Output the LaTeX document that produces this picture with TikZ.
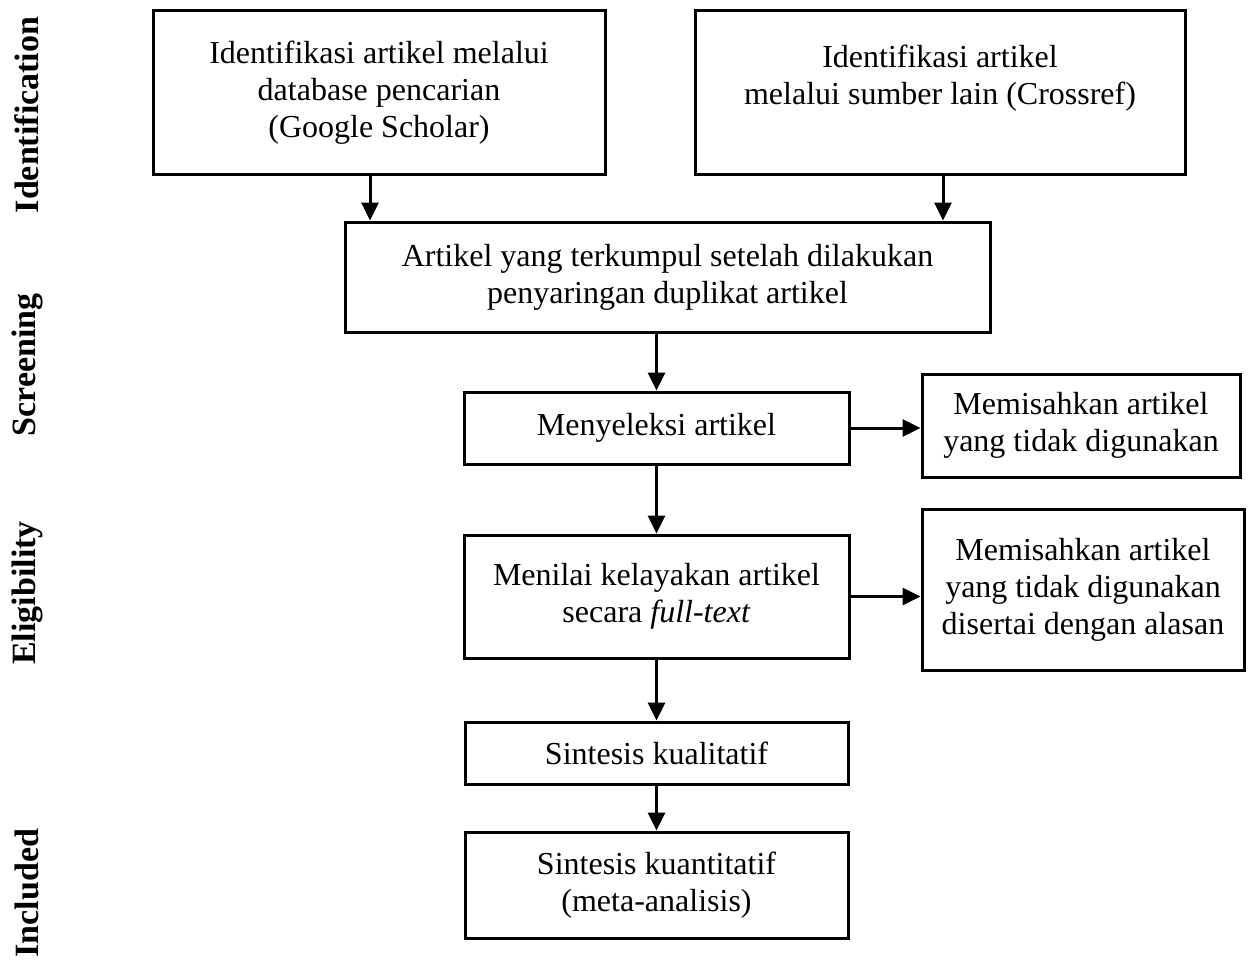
\documentclass[tikz,border=0pt]{standalone}
\usepackage{fontspec}
\setmainfont{Liberation Serif}
\usetikzlibrary{arrows.meta}
\begin{document}
\begin{tikzpicture}[x=1pt,y=-1pt,
  box/.style={draw=black,line width=3pt,align=center,inner sep=0pt,font=\fontsize{32}{37}\selectfont},
  arr/.style={line width=3pt,-{Triangle[length=18pt,width=17pt]}},
  phase/.style={rotate=90,font=\bfseries\fontsize{34}{38}\selectfont}]
\useasboundingbox (0,0) rectangle (1248,963);
\node[box,minimum width=452,minimum height=164] (b1) at (379,93) {Identifikasi artikel melalui\\database pencarian\\(Google Scholar)};
\node[box,minimum width=490,minimum height=164] (b2) at (940,93) {Identifikasi artikel\\melalui sumber lain (Crossref)\\\mbox{}};
\node[box,minimum width=645,minimum height=110] (b3) at (667.5,277) {Artikel yang terkumpul setelah dilakukan\\penyaringan duplikat artikel};
\node[box,minimum width=385,minimum height=72] (b4) at (656.5,428) {Menyeleksi artikel};
\node[box,minimum width=318,minimum height=103] (b5) at (1081,425.5) {Memisahkan artikel\\yang tidak digunakan};
\node[box,minimum width=385,minimum height=123] (b6) at (656.5,596.5) {Menilai kelayakan artikel\\secara \textit{full-text}};
\node[box,minimum width=322,minimum height=161] (b7) at (1083,589.5) {Memisahkan artikel\\yang tidak digunakan\\disertai dengan alasan};
\node[box,minimum width=383,minimum height=62] (b8) at (656.5,753) {Sintesis kualitatif};
\node[box,minimum width=383,minimum height=106] (b9) at (656.5,885) {Sintesis kuantitatif\\(meta-analisis)};
\node[phase] (p1) at (27,115) {Identification};
\node[phase] (p2) at (27,365) {Screening};
\node[phase] (p3) at (27,593) {Eligibility};
\node[phase] (p4) at (27,893) {Included};
\coordinate (a1) at ([xshift=-9pt]b1.south);
\draw[arr] (a1) -- (a1 |- b3.north);
\coordinate (a2) at ([xshift=3pt]b2.south);
\draw[arr] (a2) -- (a2 |- b3.north);
\draw[arr] (b4.north |- b3.south) -- (b4.north);
\draw[arr] (b4.east) -- (b4.east -| b5.west);
\draw[arr] (b4.south) -- (b6.north);
\draw[arr] (b6.east) -- (b6.east -| b7.west);
\draw[arr] (b6.south) -- (b6.south |- b8.north);
\draw[arr] (b8.south) -- (b8.south |- b9.north);
\end{tikzpicture}
\end{document}
